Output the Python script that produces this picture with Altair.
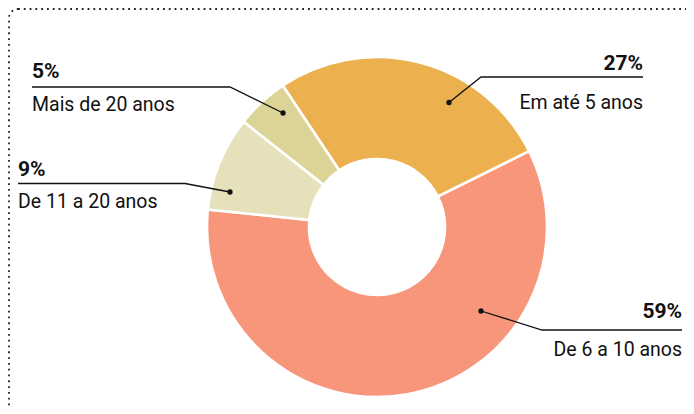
import math
import altair as alt
import pandas as pd

# ---- data ----
categories = ["Em até 5 anos", "De 6 a 10 anos", "De 11 a 20 anos", "Mais de 20 anos"]
values = [27, 59, 9, 5]
pct_labels = ["27%", "59%", "9%", "5%"]
colors = ["#EDB04E", "#F7967A", "#E6E1BA", "#DCD496"]

# ---- annotation layout (page pixels) ----
side = ["right", "right", "left", "left"]
text_x = [643, 682, 18, 32]
line_y = [77, 330, 183.5, 87]
elbow_x = [481, 542, 185, 230]
dot_x = [449, 481, 230, 283]
dot_y = [102.5, 311, 192, 113]
pct_base = [70, 318, 175.5, 77.5]
desc_base = [109, 356, 208, 111]

OFF = 8
W, H = 678, 398
CX, CY = 377 - OFF, 227 - OFF
START = math.radians(-33.7)

pie = pd.DataFrame({"cat": categories, "value": values, "ord": list(range(len(values)))})

rows_txt = []
rows_line = []
rows_dot = []
for i in range(len(categories)):
    rows_txt.append({"side": side[i], "tx": text_x[i] - OFF, "py": pct_base[i] - OFF,
                     "dy": desc_base[i] - OFF, "pct": pct_labels[i], "desc": categories[i]})
    pts = [(dot_x[i], dot_y[i]), (elbow_x[i], line_y[i]), (text_x[i], line_y[i])]
    for k, (px, py) in enumerate(pts):
        rows_line.append({"g": i, "k": k, "lx": px - OFF, "ly": py - OFF})
    rows_dot.append({"mx": dot_x[i] - OFF, "my": dot_y[i] - OFF})

txt = pd.DataFrame(rows_txt)
lines = pd.DataFrame(rows_line)
dots = pd.DataFrame(rows_dot)

xs = alt.Scale(domain=[0, W], nice=False)
ys = alt.Scale(domain=[0, H], reverse=True, nice=False)

arc = alt.Chart(pie).mark_arc(
    outerRadius=170, innerRadius=68, stroke="white", strokeWidth=2.6
).encode(
    theta=alt.Theta("value:Q", stack=True,
                    scale=alt.Scale(range=[START, START + 2 * math.pi])),
    order=alt.Order("ord:Q"),
    color=alt.Color("cat:N", scale=alt.Scale(domain=categories, range=colors), legend=None),
    x=alt.value(CX),
    y=alt.value(CY),
)

leader = alt.Chart(lines).mark_line(color="#111111", strokeWidth=1.3).encode(
    x=alt.X("lx:Q", scale=xs, axis=None),
    y=alt.Y("ly:Q", scale=ys, axis=None),
    detail="g:N",
    order="k:Q",
)

dot = alt.Chart(dots).mark_point(filled=True, color="#111111", size=28, opacity=1).encode(
    x=alt.X("mx:Q", scale=xs, axis=None),
    y=alt.Y("my:Q", scale=ys, axis=None),
)

layers = []
for s, al in [("left", "left"), ("right", "right")]:
    base = alt.Chart(txt).transform_filter(alt.datum.side == s)
    layers.append(base.mark_text(align=al, baseline="alphabetic", font="Roboto",
                                 fontSize=21, fontWeight="bold", color="#111111").encode(
        x=alt.X("tx:Q", scale=xs, axis=None), y=alt.Y("py:Q", scale=ys, axis=None), text="pct:N"))
    layers.append(base.mark_text(align=al, baseline="alphabetic", font="Roboto",
                                 fontSize=19.5, color="#111111").encode(
        x=alt.X("tx:Q", scale=xs, axis=None), y=alt.Y("dy:Q", scale=ys, axis=None), text="desc:N"))

border = alt.Chart(pd.DataFrame({"a": [0]})).mark_rect(
    filled=False, stroke="#222222", strokeWidth=1.8, strokeDash=[1.8, 4], cornerRadius=9, clip=False
).encode(
    x=alt.value(1), x2=alt.value(W + 40), y=alt.value(1), y2=alt.value(H + 40)
)

chart = alt.layer(border, arc, leader, dot, *layers).properties(
    width=W, height=H, padding=0, autosize=alt.AutoSizeParams(type="none")
).configure_view(strokeWidth=0)

chart.save("out.html", embed_options={"renderer": "svg", "actions": False})
